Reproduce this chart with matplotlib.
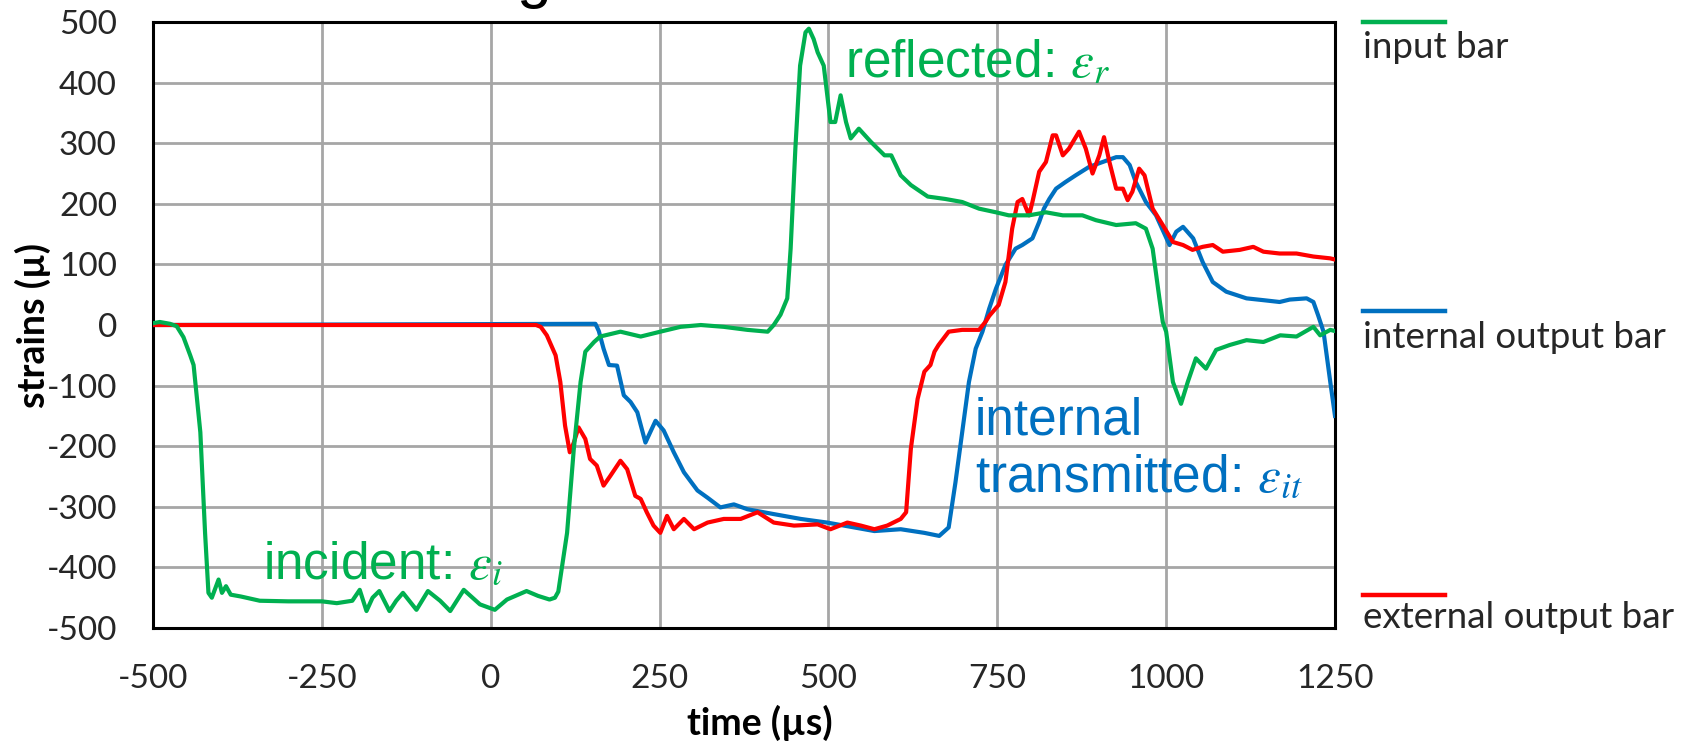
import matplotlib
matplotlib.use("Agg")
import matplotlib.pyplot as plt
from matplotlib.lines import Line2D

# (time in µs, strain in µ)
input_bar = [(-500, 3), (-490, 5), (-475, 2), (-465, -2), (-455, -20), (-445, -50), (-440, -66),
             (-430, -177), (-423, -343), (-418, -442), (-413, -450), (-408, -435), (-403, -420),
             (-398, -442), (-392, -431), (-385, -445), (-370, -448), (-342, -455), (-300, -456),
             (-250, -456), (-228, -459), (-205, -455), (-194, -437), (-184, -472), (-175, -450),
             (-165, -439), (-150, -472), (-140, -455), (-130, -442), (-110, -470), (-93, -439),
             (-75, -455), (-60, -472), (-40, -437), (-16, -461), (6, -470), (24, -453), (53, -439),
             (70, -447), (87, -453), (95, -450), (100, -440), (113, -343), (123, -204), (133, -94),
             (140, -44), (153, -28), (162, -19), (192, -11), (222, -19), (251, -11), (281, -3),
             (311, 0), (345, -3), (380, -8), (410, -11), (419, 0), (429, 17), (439, 44), (444, 126),
             (451, 291), (458, 428), (466, 483), (471, 489), (478, 472), (484, 450), (493, 428),
             (503, 335), (510, 335), (518, 379), (526, 335), (533, 308), (545, 324), (563, 302),
             (583, 280), (593, 280), (607, 247), (622, 231), (647, 212), (673, 208), (698, 203),
             (723, 192), (748, 186), (767, 181), (797, 181), (822, 186), (847, 181), (876, 181),
             (896, 173), (926, 165), (955, 168), (970, 159), (980, 126), (990, 44), (995, 5),
             (1000, -11), (1010, -94), (1022, -130), (1032, -94), (1044, -55), (1059, -72),
             (1074, -41), (1094, -33), (1119, -25), (1144, -28), (1169, -17), (1193, -19),
             (1218, -3), (1228, -17), (1243, -8), (1250, -10)]

internal_bar = [(-500, 0), (155, 2), (160, -10), (167, -39), (175, -66), (187, -67), (197, -116),
                (207, -127), (217, -144), (229, -194), (244, -158), (256, -174), (271, -210),
                (286, -243), (306, -273), (321, -285), (340, -301), (360, -296), (380, -304),
                (419, -312), (459, -320), (498, -326), (538, -334), (568, -340), (607, -337),
                (642, -343), (664, -348), (678, -334), (688, -260), (698, -177), (708, -94),
                (718, -39), (728, -11), (738, 27), (748, 60), (762, 99), (777, 126), (787, 132),
                (802, 143), (812, 170), (819, 192), (827, 208), (837, 225), (851, 236), (866, 247),
                (886, 261), (906, 269), (926, 277), (936, 277), (946, 264), (955, 236), (970, 203),
                (985, 181), (1005, 132), (1015, 154), (1025, 162), (1040, 143), (1054, 104),
                (1069, 71), (1089, 55), (1119, 44), (1144, 41), (1168, 38), (1183, 42), (1208, 44),
                (1218, 38), (1225, 16), (1233, -11), (1243, -94), (1250, -150)]

external_bar = [(-500, 0), (67, 0), (74, -3), (83, -17), (96, -50), (103, -94), (110, -166),
                (117, -210), (123, -194), (130, -169), (140, -188), (147, -221), (157, -232),
                (167, -265), (177, -249), (192, -224), (202, -238), (214, -282), (222, -287),
                (231, -309), (241, -331), (251, -343), (261, -315), (271, -337), (286, -320),
                (301, -337), (321, -326), (345, -320), (370, -320), (395, -309), (419, -326),
                (449, -331), (484, -329), (503, -337), (528, -326), (548, -331), (568, -337),
                (587, -331), (607, -320), (615, -309), (622, -204), (632, -122), (642, -77),
                (651, -66), (657, -44), (663, -33), (678, -11), (698, -8), (723, -8), (733, 6),
                (738, 15), (748, 28), (752, 33), (762, 71), (772, 159), (780, 203), (787, 208),
                (797, 181), (802, 203), (812, 253), (822, 269), (832, 313), (837, 313), (847, 280),
                (856, 291), (871, 319), (881, 291), (891, 250), (901, 280), (908, 310), (916, 269),
                (926, 225), (936, 225), (943, 206), (950, 220), (960, 258), (968, 247), (980, 192),
                (995, 165), (1010, 137), (1025, 132), (1039, 124), (1054, 129), (1069, 132),
                (1084, 121), (1109, 124), (1129, 129), (1144, 121), (1168, 118), (1193, 118),
                (1218, 113), (1243, 110), (1250, 108)]

series_names = ["input bar", "internal output bar", "external output bar"]
series_colors = ["#00B050", "#0070C0", "#FF0000"]

x_ticks = [-500, -250, 0, 250, 500, 750, 1000, 1250]
y_ticks = [500, 400, 300, 200, 100, 0, -100, -200, -300, -400, -500]

plt.rcParams["mathtext.fontset"] = "stix"
plt.rcParams["axes.unicode_minus"] = False

fig = plt.figure(figsize=(16.82, 7.44), dpi=100)
ax = fig.add_axes([0.0910, 0.1559, 0.7027, 0.8145])

# draw blue under red, green on top of blue where they cross
order = [1, 2, 0]
all_series = [input_bar, internal_bar, external_bar]
for i in order:
    t, v = zip(*all_series[i])
    ax.plot(t, v, color=series_colors[i], lw=3.0, solid_joinstyle="round", zorder=3)

ax.set_xlim(-500, 1250)
ax.set_ylim(-500, 500)
ax.set_xticks(x_ticks)
ax.set_yticks(y_ticks)
ax.grid(True, color="#A6A6A6", lw=2.0)
ax.set_axisbelow(True)
for s in ax.spines.values():
    s.set_linewidth(2.2)
    s.set_color("black")
ax.tick_params(length=0, labelsize=24, colors="#262626")
ax.tick_params(axis="y", pad=26)
ax.tick_params(axis="x", pad=26)
for lab in ax.get_xticklabels() + ax.get_yticklabels():
    lab.set_fontfamily("Lato")

ax.set_xlabel("time (µs)", fontsize=27, fontweight="bold", family="Lato")
ax.set_ylabel("strains (µ)", fontsize=27, fontweight="bold", family="Lato")
ax.xaxis.set_label_coords(0.5135, -0.157)
ax.yaxis.set_label_coords(-0.1015, 0.5)
ax.xaxis.label.set_va("center")
ax.yaxis.label.set_va("center")

# annotations on the curves
ann = dict(fontsize=37, family="Liberation Sans", va="baseline", ha="left", zorder=5)
ax.text(525, 409, r"reflected: $\varepsilon_r$", color=series_colors[0], **ann)
ax.text(-337, -419, r"incident: $\varepsilon_i$", color=series_colors[0], **ann)
ax.text(717, -180, "internal", color=series_colors[1], **ann)
ax.text(717, -276, r"transmitted: $\varepsilon_{it}$", color=series_colors[1], **ann)

# legend at the right: a short line with the name underneath
W, H = 1682.0, 744.0
leg_line_y = [22, 311, 595]
leg_text_y = [58, 348, 628]
for name, col, ly, ty in zip(series_names, series_colors, leg_line_y, leg_text_y):
    fig.add_artist(Line2D([1363 / W, 1445 / W], [1 - ly / H, 1 - ly / H], color=col, lw=3.2))
    fig.text(1363 / W, 1 - ty / H, name, fontsize=26.5, family="Lato", color="#262626",
             va="baseline", ha="left")

# bottom of a cut-off title letter at the top edge
fig.text(534 / W, 1 + 4 / H, "g", fontsize=45, family="Liberation Sans", color="black",
         ha="center", va="baseline")

fig.savefig("out.png", dpi=100)
